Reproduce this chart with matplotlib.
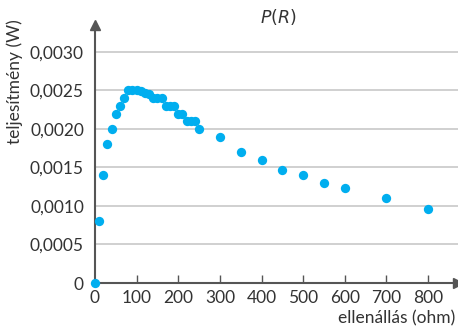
import matplotlib
matplotlib.use('Agg')
import matplotlib.pyplot as plt
from matplotlib.ticker import FuncFormatter

# ellenállás (ohm) és teljesítmény (W)
R = [0, 10, 20, 30, 40, 50, 60, 70, 80, 90, 100, 110, 120, 130, 140, 150,
     160, 170, 180, 190, 200, 210, 220, 230, 240, 250, 300, 350, 400, 450,
     500, 550, 600, 700, 800]
P = [0, 0.0008, 0.0014, 0.0018, 0.0020, 0.0022, 0.0023, 0.0024, 0.0025,
     0.0025, 0.0025, 0.00249, 0.00247, 0.00245, 0.0024, 0.0024, 0.0024,
     0.0023, 0.0023, 0.0023, 0.0022, 0.0022, 0.0021, 0.0021, 0.0021, 0.0020,
     0.0019, 0.0017, 0.0016, 0.00147, 0.0014, 0.0013, 0.00123, 0.0011, 0.00096]
xticks = [0, 100, 200, 300, 400, 500, 600, 700, 800]
yticks = [0, 0.0005, 0.0010, 0.0015, 0.0020, 0.0025, 0.0030]

plt.rcParams['font.family'] = ['Lato', 'DejaVu Sans']
txt = '#333333'
axc = '#555555'

fig = plt.figure(figsize=(4.58, 3.30), dpi=100)
ax = fig.add_axes([95/458, 47/330, 363/458, 258/330])
ax.set_xlim(0, 872)
ax.set_ylim(0, 0.00335)

ax.scatter(R, P, s=45, color='#00aeef', zorder=5, clip_on=False, linewidths=0)

for s in ['top', 'right']:
    ax.spines[s].set_visible(False)
for s in ['left', 'bottom']:
    ax.spines[s].set_color(axc)
    ax.spines[s].set_linewidth(1.5)
ax.plot(1, 0, marker='>', color=axc, markersize=7, transform=ax.transAxes, clip_on=False)
ax.plot(0, 1, marker='^', color=axc, markersize=7, transform=ax.transAxes, clip_on=False)

ax.set_yticks(yticks)
ax.yaxis.set_major_formatter(FuncFormatter(lambda v, p: '0' if v == 0 else ('%.4f' % v).replace('.', ',')))
ax.tick_params(axis='y', length=0, pad=8, labelsize=12.5, labelcolor=txt)
ax.grid(axis='y', color='#c8c8c8', linewidth=1.2)
ax.set_axisbelow(True)

ax.set_xticks(xticks)
ax.tick_params(axis='x', direction='in', length=6, width=1, color=axc, pad=5, labelsize=12.5, labelcolor=txt)
ax.xaxis.get_major_ticks()[0].tick1line.set_visible(False)

fig.text(455/458, 1 - 318/330, 'ellenállás (ohm)', ha='right', va='center', fontsize=12.5, color=txt)
fig.text(15/458, 1 - 82/330, 'teljesítmény (W)', rotation=90, ha='center', va='center', fontsize=12.5, color=txt)
fig.text(278/458, 1 - 17/330, '$P(R)$', ha='center', va='center', fontsize=12.5, color=txt)

fig.savefig('out.png', dpi=100)
